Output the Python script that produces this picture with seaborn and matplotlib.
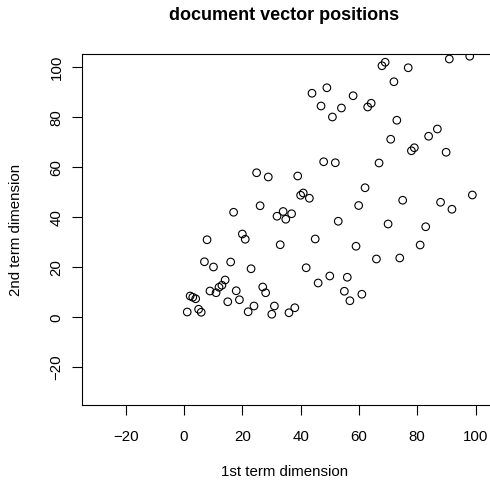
import matplotlib
matplotlib.use("Agg")
import matplotlib.pyplot as plt
import seaborn as sns
import pandas as pd

x_vals = [24.9, 28.9, 39.0, 40.9, 40.0, 43.0, 26.1, 17.0, 34.0, 36.9, 31.9, 34.9,
          7.9, 20.0, 21.0, 33.0, 41.9, 7.0, 10.1, 16.0, 23.0, 2.1, 3.0, 4.0,
          8.9, 11.0, 12.0, 13.0, 14.1, 17.9, 27.0, 28.0, 15.0, 19.0, 5.0, 5.9,
          1.1, 22.0, 24.0, 31.0, 30.1, 38.0, 36.0, 59.9, 75.0, 88.0, 91.9, 52.9,
          70.0, 82.9, 45.0, 59.0, 66.0, 74.0, 81.0, 46.0, 50.0, 56.0, 55.0, 56.9,
          61.0, 69.0, 67.9, 76.9, 91.0, 98.0, 72.0, 43.9, 49.0, 58.0, 47.0, 54.0,
          64.2, 63.0, 50.9, 73.0, 70.9, 86.9, 83.9, 79.0, 78.0, 89.9, 47.9, 51.9,
          66.9, 62.1, 98.9]
y_vals = [57.8, 56.1, 56.5, 49.7, 48.8, 47.6, 44.6, 42.0, 42.3, 41.4, 40.4, 39.2,
          31.0, 33.3, 31.2, 29.0, 19.8, 22.2, 20.1, 22.1, 19.4, 8.5, 8.0, 7.4,
          10.5, 9.8, 12.0, 12.8, 14.9, 10.6, 12.1, 9.8, 6.2, 7.0, 3.2, 2.0,
          2.1, 2.2, 4.5, 4.5, 1.2, 3.8, 1.8, 44.7, 46.8, 46.0, 43.2, 38.4,
          37.3, 36.2, 31.3, 28.4, 23.3, 23.7, 28.9, 13.7, 16.5, 16.0, 10.4, 6.6,
          9.2, 102.0, 100.6, 99.8, 103.3, 104.4, 94.2, 89.6, 91.8, 88.6, 84.5, 83.7,
          85.6, 84.1, 80.1, 78.8, 71.2, 75.3, 72.4, 67.8, 66.6, 66.0, 62.2, 61.8,
          61.7, 51.8, 48.9]

x_ticks = [-20, 0, 20, 40, 60, 80, 100]
y_ticks = [-20, 0, 20, 40, 60, 80, 100]

title = "document vector positions"
xlabel = "1st term dimension"
ylabel = "2nd term dimension"

sns.set_style("white")
plt.rcParams["font.family"] = ["Liberation Sans", "DejaVu Sans"]
plt.rcParams["text.color"] = "black"
plt.rcParams["axes.labelcolor"] = "black"
plt.rcParams["xtick.color"] = "black"
plt.rcParams["ytick.color"] = "black"

df = pd.DataFrame({"x": x_vals, "y": y_vals})

fig = plt.figure(figsize=(4.9, 4.8), dpi=100)
ax_l, ax_r, ax_t, ax_b = 81.7, 491.0, 54.0, 405.0
ax = fig.add_axes([ax_l / 490, 1 - ax_b / 480, (ax_r - ax_l) / 490, (ax_b - ax_t) / 480])

sns.scatterplot(data=df, x="x", y="y", ax=ax, marker="o", s=30,
                facecolor="none", edgecolor="black", linewidth=0.8)

ax.set_xlim(-35.1, 105.3)
ax.set_ylim(-35.1, 105.3)
ax.set_xticks(x_ticks)
ax.set_yticks(y_ticks)
ax.set_xticklabels([str(t).replace("-", "\u2212") for t in x_ticks], fontsize=10.8)
ax.set_yticklabels([str(t).replace("-", "\u2212") for t in y_ticks], fontsize=10.8,
                   rotation=90, va="center")
ax.tick_params(axis="both", direction="out", length=7, width=0.8, color="black",
               labelcolor="black", left=True, bottom=True)
ax.tick_params(axis="x", pad=11)
ax.tick_params(axis="y", pad=6)
for sp in ax.spines.values():
    sp.set_visible(True)
    sp.set_color("black")
    sp.set_linewidth(0.8)

ax.set_xlabel(xlabel, fontsize=10.8, color="black")
ax.set_ylabel(ylabel, fontsize=10.8, color="black")
ax.xaxis.set_label_coords((285 - ax_l) / (ax_r - ax_l), -(465 - ax_b) / (ax_b - ax_t))
ax.yaxis.set_label_coords(-(ax_l - 23) / (ax_r - ax_l), 0.5)
fig.text(284 / 490, 1 - 15 / 480, title, ha="center", va="center",
         fontsize=13, fontweight="bold", color="black")

fig.savefig("out.png", dpi=100)
